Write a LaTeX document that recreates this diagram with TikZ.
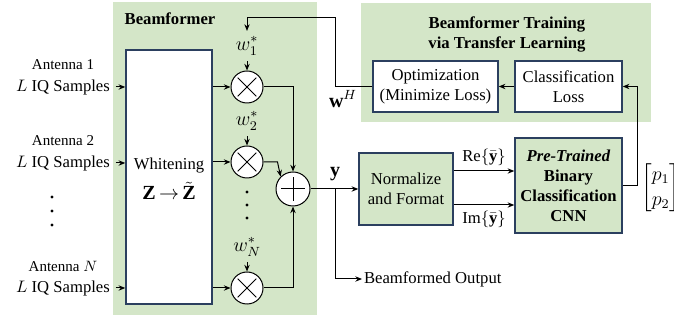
\documentclass[tikz,border=0pt]{standalone}
\usepackage{fontspec}
\setmainfont{Liberation Serif}
\usepackage{amsmath}
\usepackage{xcolor}
\usetikzlibrary{positioning,arrows.meta}
\definecolor{bfgreen}{HTML}{D4E6C8}
\definecolor{boxedge}{HTML}{2B3F5F}
\tikzset{
  blk/.style={draw=boxedge,line width=0.9pt,fill=white,align=center,inner sep=0pt},
  gblk/.style={blk,fill=bfgreen},
  opnode/.style={circle,draw,line width=0.6pt,fill=white,inner sep=0pt},
  mult/.style={opnode,minimum size=19.2pt,path picture={
      \draw[line width=0.6pt] ([shift={(-5.6pt,-5.6pt)}]path picture bounding box.center) -- ([shift={(5.6pt,5.6pt)}]path picture bounding box.center);
      \draw[line width=0.6pt] ([shift={(-5.6pt,5.6pt)}]path picture bounding box.center) -- ([shift={(5.6pt,-5.6pt)}]path picture bounding box.center);}},
  summ/.style={opnode,minimum size=20.4pt,path picture={
      \draw[line width=0.6pt] ([xshift=-7pt]path picture bounding box.center) -- ([xshift=7pt]path picture bounding box.center);
      \draw[line width=0.6pt] ([yshift=-7pt]path picture bounding box.center) -- ([yshift=7pt]path picture bounding box.center);}},
  sig/.style={-{Stealth[length=4pt,width=3.2pt]},line width=0.6pt},
  mlab/.style={font=\large},
}

\begin{document}
\begin{tikzpicture}[x=0.6pt,y=-0.6pt]
        \clip (0,0) rectangle (674,320);
        % shaded regions
        \fill[bfgreen] (113,2) rectangle (317,315);
        \fill[bfgreen] (361,3) rectangle (651,122);
        \node[font=\bfseries] (bftitle) at (170,19) {Beamformer};
        \node[font=\bfseries,align=center] (trtitle) at (507,34) {Beamformer Training\\via Transfer Learning};

        % antenna inputs
        \node[blk,minimum width=51.6pt,minimum height=152.4pt] (wht) at (169,177) {};
        \node (whtxt) at (169,166) {Whitening};
        \node[mlab] (zz) at (169,191) {$\mathbf{Z}\,{\rightarrow}\,\tilde{\mathbf{Z}}$};
        \foreach \n/\a/\y in {1/Antenna 1/87,2/Antenna 2/163,N/Antenna $N$/288} {
          \node[font=\small] (ant\n) at (63,\y-22) {\a};
          \node (iq\n) at (63,\y) {$L$ IQ Samples};
          \draw[sig] (iq\n.east) -- (iq\n.east -| wht.west);
        }
        \foreach \y in {197,211,225} \fill (52,\y) circle (1pt);

        % weights and multipliers
        \foreach \n/\y in {1/87,2/162,N/288} {
          \node[mult] (m\n) at (247,\y) {};
          \node[mlab] (w\n) at (247,\y-41) {$w_{\n}^{*}$};
          \draw[sig] (w\n.south) -- (m\n.north);
          \draw[sig] (m\n.west -| wht.east) -- (m\n.west);
        }
        \foreach \y in {192,205,218} \fill (247,\y) circle (1pt);
        \node[summ] (sum) at (293,189) {};
        \draw[sig] (m1.east) -| (sum.north);
        \draw[sig] (m2.east) -- ++(14,0) -- (sum.north west);
        \draw[sig] (mN.east) -| (sum.south);

        % classifier chain
        \node[gblk,minimum width=56.4pt,minimum height=43.2pt] (nrm) at (406,189) {Normalize\\and Format};
        \node[gblk,minimum width=64.2pt,minimum height=57pt,font=\bfseries] (cnn) at (568.5,185.5) {\textit{Pre-Trained}\\Binary\\Classification\\CNN};
        \node[blk,minimum width=75pt,minimum height=30.6pt] (opt) at (435.5,86.5) {Optimization\\(Minimize Loss)};
        \node[blk,minimum width=64.2pt,minimum height=30.6pt] (cls) at (568.5,86.5) {Classification\\Loss};
        \node[mlab] (ylab) at (335,174) {$\mathbf{y}$};
        \draw[sig] (sum.east) -- (nrm.west);
        \coordinate (br) at (335,189);
        \node[anchor=west,inner sep=1pt] (bo) at (362,279) {Beamformed Output};
        \draw[sig] (br) |- (bo.west);
        \draw[sig] (nrm.east |- 0,171) -- (cnn.west |- 0,171);
        \draw[sig] (nrm.east |- 0,205) -- (cnn.west |- 0,205);
        \node (re) at (484,157) {Re$\{\bar{\mathbf{y}}\}$};
        \node (im) at (484,219) {Im$\{\bar{\mathbf{y}}\}$};
        \node[mlab,anchor=west,inner sep=0pt] (pv) at (641,188) {$\renewcommand{\arraystretch}{1.1}\begin{bmatrix}p_1\\p_2\end{bmatrix}$};
        \draw[sig] (cnn.east) -- ++(15,0) |- (cls.east);
        \draw[sig] (cls.west) -- (opt.east);
        \coordinate (fb) at (335,18);
        \draw[sig] (opt.west) -| (fb) -| (w1.north);
        \node[mlab] (wh) at (343,99) {$\mathbf{w}^{H}$};
      \end{tikzpicture}
\end{document}
